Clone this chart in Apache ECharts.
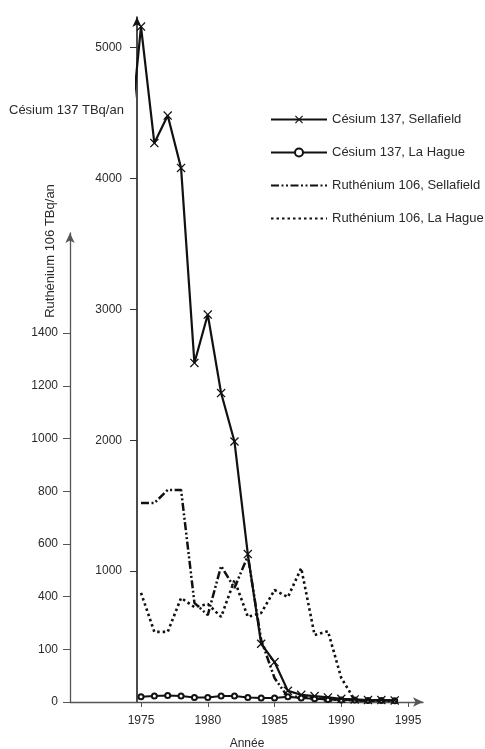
<!DOCTYPE html>
<html>
<head>
<meta charset="utf-8">
<script src="https://cdn.jsdelivr.net/npm/echarts@6/dist/echarts.min.js"></script>
<style>
  html, body { margin: 0; padding: 0; background: #fff; }
  #chart { width: 485px; height: 749px; }
</style>
</head>
<body>
<div id="chart"></div>
<script>
// Annual discharges, TBq/an
const cs137SellafieldYears = [1974, 1975, 1976, 1977, 1978, 1979, 1980, 1981, 1982, 1983, 1984,
  1985, 1986, 1987, 1988, 1989, 1990, 1991, 1992, 1993, 1994];
const cs137Sellafield = [4120, 5160, 4270, 4480, 4080, 2590, 2960, 2360, 1990, 1130, 445,
  305, 85, 55, 45, 35, 25, 20, 15, 15, 12];

const otherYears = [1975, 1976, 1977, 1978, 1979, 1980, 1981, 1982, 1983, 1984,
  1985, 1986, 1987, 1988, 1989, 1990, 1991, 1992, 1993, 1994];
const cs137LaHague = [40, 45, 50, 45, 35, 35, 45, 45, 35, 30,
  30, 40, 30, 25, 20, 15, 15, 12, 12, 10];
const ru106Sellafield = [755, 755, 805, 805, 376, 330, 516, 433, 554, 235,
  91, 19, 20, 15, 10, 8, 6, 5, 5, 5];
const ru106LaHague = [414, 266, 266, 395, 360, 372, 323, 463, 323, 338,
  425, 398, 508, 254, 269, 91, 8, 5, 5, 5];

const seriesNames = ['Césium 137, Sellafield', 'Césium 137, La Hague',
  'Ruthénium 106, Sellafield', 'Ruthénium 106, La Hague'];

// Tick values and labels
const yearTicks = [1975, 1980, 1985, 1990, 1995];
const cesiumTicks = [1000, 2000, 3000, 4000, 5000];
const rutheniumTicks = [0, 200, 400, 600, 800, 1000, 1200, 1400];
const rutheniumTickLabels = ['0', '100', '400', '600', '800', '1000', '1200', '1400'];

const FONT = '"Liberation Sans", Arial, Helvetica, sans-serif';
const INK = '#111';
const TXT = '#2a2a2a';

const pairs = (xs, ys) => ys.map((v, i) => [xs[i], v]);
const crossPath = 'path://M1,0L5,4L9,0L10,1L6,5L10,9L9,10L5,6L1,10L0,9L4,5L0,1Z';

const chart = echarts.init(document.getElementById('chart'), null, { renderer: 'canvas' });

const labelStyle = { fontFamily: FONT, fontSize: 12, color: TXT };

chart.setOption({
  animation: false,
  backgroundColor: '#fff',
  grid: [
    { left: 137, right: 62, top: 17, bottom: 47 },
    { left: 70, right: 62, top: 233, bottom: 47 }
  ],
  xAxis: [
    { gridIndex: 0, type: 'value', min: 1974.7, max: 1996.12, show: false },
    {
      gridIndex: 1, type: 'value', min: 1969.68, max: 1996.12,
      splitLine: { show: false },
      axisLine: { show: true, symbol: ['none', 'arrow'], symbolSize: [7, 10],
        lineStyle: { color: '#555', width: 1.3 } },
      axisTick: { show: true, customValues: yearTicks, length: 5, lineStyle: { color: '#555' } },
      axisLabel: Object.assign({ customValues: yearTicks, margin: 13,
        formatter: v => String(v) }, labelStyle)
    }
  ],
  yAxis: [
    {
      gridIndex: 0, type: 'value', min: 0, max: 5233,
      splitLine: { show: false },
      axisLine: { show: true, symbol: ['none', 'arrow'], symbolSize: [7, 10],
        lineStyle: { color: INK, width: 1.5 } },
      axisTick: { show: true, customValues: cesiumTicks, length: 7, lineStyle: { color: '#333' } },
      axisLabel: Object.assign({ customValues: cesiumTicks, margin: 15,
        formatter: v => String(v) }, labelStyle)
    },
    {
      gridIndex: 1, type: 'value', min: 0, max: 1780,
      splitLine: { show: false },
      axisLine: { show: true, symbol: ['none', 'arrow'], symbolSize: [7, 10],
        lineStyle: { color: '#555', width: 1.3 } },
      axisTick: { show: true, customValues: rutheniumTicks, length: 7, lineStyle: { color: '#555' } },
      axisLabel: Object.assign({ customValues: rutheniumTicks, margin: 12,
        formatter: v => rutheniumTickLabels[rutheniumTicks.indexOf(v)] }, labelStyle)
    }
  ],
  legend: {
    orient: 'vertical', left: 265, top: 108,
    itemWidth: 56, itemHeight: 10, itemGap: 20,
    textStyle: { fontFamily: FONT, fontSize: 13, color: TXT },
    data: [
      { name: seriesNames[0] },
      { name: seriesNames[1] },
      { name: seriesNames[2], itemStyle: { opacity: 0 } },
      { name: seriesNames[3], itemStyle: { opacity: 0 } }
    ]
  },
  series: [
    {
      name: seriesNames[3], type: 'line', xAxisIndex: 1, yAxisIndex: 1,
      data: pairs(otherYears, ru106LaHague), symbol: 'none', clip: true, z: 2,
      lineStyle: { color: INK, width: 2.6, type: [2.5, 3] }, itemStyle: { color: INK }
    },
    {
      name: seriesNames[2], type: 'line', xAxisIndex: 1, yAxisIndex: 1,
      data: pairs(otherYears, ru106Sellafield), symbol: 'none', clip: true, z: 3,
      lineStyle: { color: INK, width: 2.5, type: [8, 2.5, 2, 2.5, 2, 2.5] }, itemStyle: { color: INK }
    },
    {
      name: seriesNames[1], type: 'line', xAxisIndex: 0, yAxisIndex: 0,
      data: pairs(otherYears, cs137LaHague), symbol: 'emptyCircle', symbolSize: 5,
      clip: true, z: 4,
      lineStyle: { color: INK, width: 2 },
      itemStyle: { color: INK, borderColor: INK, borderWidth: 1 }
    },
    {
      name: seriesNames[0], type: 'line', xAxisIndex: 0, yAxisIndex: 0,
      data: pairs(cs137SellafieldYears, cs137Sellafield), symbol: crossPath, symbolSize: 9,
      clip: true, z: 5,
      lineStyle: { color: INK, width: 2.2 }, itemStyle: { color: INK }
    }
  ],
  graphic: [
    { type: 'text', x: 9, y: 110, style: { text: 'Césium 137 TBq/an', fill: TXT,
      font: '13px ' + FONT, align: 'left', verticalAlign: 'middle' } },
    { type: 'text', x: 50, y: 251, rotation: Math.PI / 2, style: { text: 'Ruthénium 106 TBq/an',
      fill: TXT, font: '13px ' + FONT, align: 'center', verticalAlign: 'middle' } },
    { type: 'text', x: 247, y: 744, style: { text: 'Année', fill: TXT,
      font: '12px ' + FONT, align: 'center', verticalAlign: 'middle' } }
  ]
});
</script>
</body>
</html>
